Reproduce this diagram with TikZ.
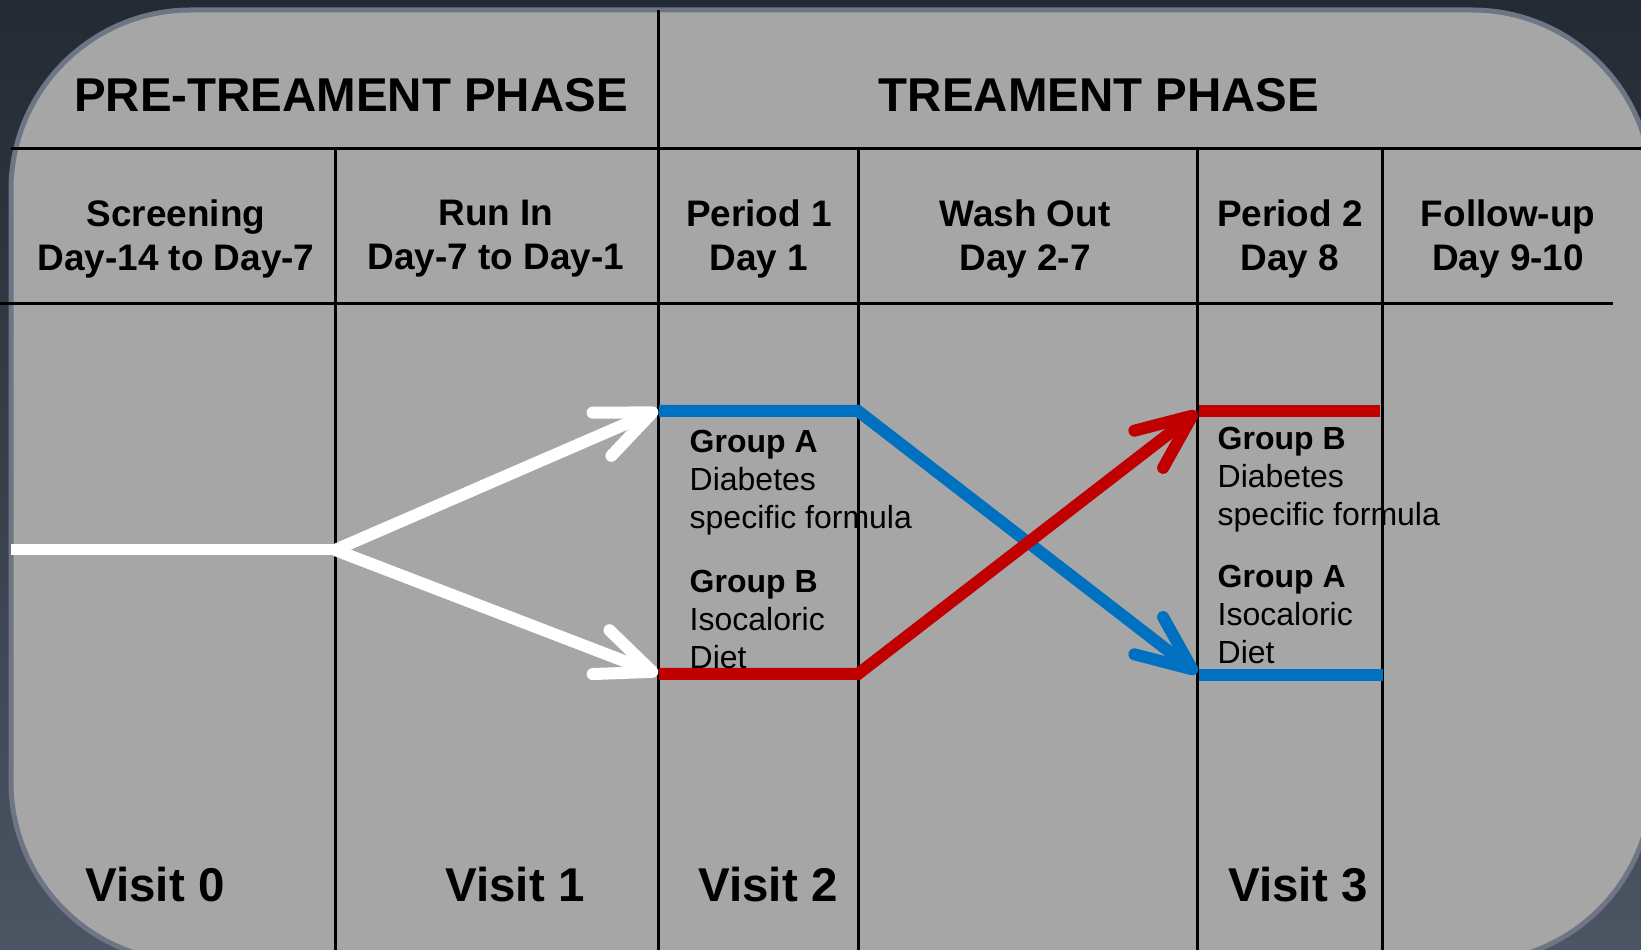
\documentclass[tikz,border=0pt]{standalone}
\usepackage{fontspec}
\setmainfont{Liberation Sans}
\usepackage{xcolor}
\usetikzlibrary{arrows.meta}

\definecolor{panelgray}{HTML}{A6A6A6}
\definecolor{bgtop}{HTML}{232A33}
\definecolor{bgbot}{HTML}{4B5563}
\definecolor{rimgray}{HTML}{6E7685}
\definecolor{grpblue}{HTML}{0070C0}
\definecolor{grpred}{HTML}{C00000}

\tikzset{
  phase/.style={font=\fontsize{13.5}{16}\selectfont\bfseries},
  period/.style={font=\fontsize{10.5}{12.5}\selectfont\bfseries,align=center,anchor=north,inner sep=0pt},
  visit/.style={font=\fontsize{13.5}{16}\selectfont\bfseries},
  grp/.style={font=\fontsize{9.1}{10.9}\selectfont,align=left,anchor=north west,inner sep=0pt},
  rule/.style={line width=0.3mm},
  bar/.style={line width=1.2mm},
  arm/.style={line width=1.2mm,-{Straight Barb[length=5.5mm,width=4.7mm,round]}}
}

\begin{document}
\begin{tikzpicture}[x=0.1mm,y=-0.1mm]
\clip (0,0) rectangle (1641,950);
\shade[top color=bgtop,bottom color=bgbot] (0,0) rectangle (1641,950);
\draw[rimgray,line width=0.5mm,fill=panelgray,rounded corners=18mm] (11,10) rectangle (1652,962);

\draw[rule] (11,149) -- (1641,149);
\draw[rule] (0,304) -- (1613,304);
\draw[rule] (658,10) -- (658,950);
\foreach \x in {335,858,1197,1382}
\draw[rule] (\x,149) -- (\x,950);

\node[phase] (pre) at (351,95) {PRE-TREAMENT PHASE};
\node[phase] (trt) at (1099,95) {TREAMENT PHASE};

\node[period] (scr) at (176,199) {Screening\\Day-14 to Day-7};
\node[period] (run) at (496,199) {Run In\\Day-7 to Day-1};
\node[period] (per1) at (759,199) {Period 1\\Day 1};
\node[period] (wash) at (1025,199) {Wash Out\\Day 2-7};
\node[period] (per2) at (1290,199) {Period 2\\Day 8};
\node[period] (fup) at (1508,199) {Follow-up\\Day 9-10};

\coordinate (start) at (11,550);
\coordinate (split) at (335,550);
\coordinate (wtop) at (658,410);
\coordinate (wbot) at (658,674);
\coordinate (blue1) at (659,411);
\coordinate (blue1e) at (858,411);
\coordinate (blue2) at (1197,673);
\coordinate (blue2e) at (1383,675);
\coordinate (red1) at (659,674);
\coordinate (red1e) at (858,674);
\coordinate (red2) at (1197,412);
\coordinate (red2e) at (1380,411);

\draw[white,line width=1.1mm] (start) -- (split);
\draw[white,arm] (split) -- (wtop);
\draw[white,arm] (split) -- (wbot);
\draw[grpblue,arm] (blue1) -- (blue1e) -- (blue2);
\draw[grpblue,bar] (blue2) ++(2,2) -- (blue2e);
\draw[grpred,arm] (red1) -- (red1e) -- (red2);
\draw[grpred,bar] (red2) ++(2,-1) -- (red2e);

\node[grp] (p1a) at (689,429) {\textbf{Group A}\\Diabetes\\specific formula};
\node[grp] (p1b) at (689,569) {\textbf{Group B}\\Isocaloric\\Diet};
\node[grp] (p2b) at (1217,426) {\textbf{Group B}\\Diabetes\\specific formula};
\node[grp] (p2a) at (1217,564) {\textbf{Group A}\\Isocaloric\\Diet};

\node[visit] (v0) at (155,885) {Visit 0};
\node[visit] (v1) at (515,885) {Visit 1};
\node[visit] (v2) at (768,885) {Visit 2};
\node[visit] (v3) at (1298,885) {Visit 3};
\end{tikzpicture}
\end{document}
